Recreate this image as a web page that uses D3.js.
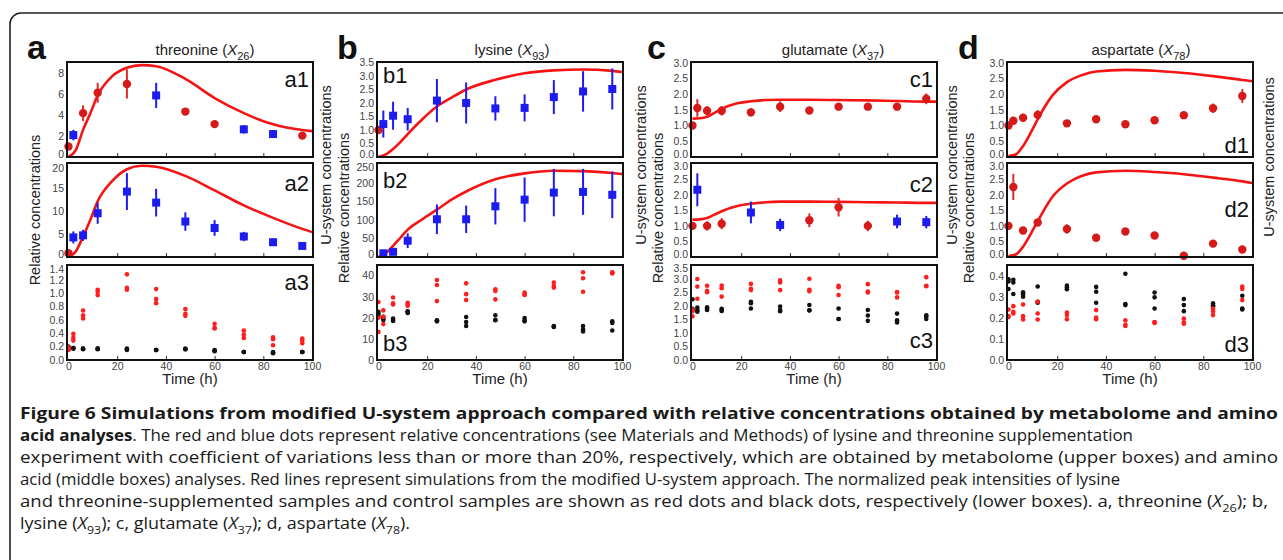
<!DOCTYPE html>
<html lang="en">
<head>
<meta charset="UTF-8">
<title>Figure 6 - U-system simulations vs relative concentrations</title>
<script src="https://d3js.org/d3.v7.min.js"></script>
<style>
  body { margin: 0; background: #fff; }
  svg text { font-family: "Liberation Sans", Arial, sans-serif; }
  .cap text { font-family: "Open Sans", "Noto Sans", sans-serif; }
</style>
</head>
<body>
<svg id="fig" width="1283" height="560"></svg>
<script>
// sampling times (h) and the times where the simulated curves were read off
const times = [0, 2, 6, 12, 24, 36, 48, 60, 72, 84, 96];
const simTimes = [0, 3, 6, 9, 12, 18, 24, 30, 36, 48, 60, 72, 84, 96, 100];

// a: threonine
const a1Kind = ["r", "b", "r", "r", "r", "b", "r", "r", "b", "b", "r"];
const a1Val = [1.0, 2.1, 4.2, 6.15, 7.0, 5.9, 4.35, 3.15, 2.65, 2.2, 2.05];
const a1Err = [0, 0.5, 0.75, 0.95, 1.4, 1.2, 0.25, 0.15, 0.4, 0.35, 0.3];
const a1Sim = [0, 0.65, 2.6, 4.2, 5.9, 7.75, 8.55, 8.8, 8.7, 7.48, 5.65, 4.2, 3.13, 2.58, 2.48];
const a2Kind = ["r", "b", "b", "b", "b", "b", "b", "b", "b", "b", "b"];
const a2Val = [0.8, 4.25, 4.7, 9.5, 14.2, 11.8, 7.7, 6.3, 4.45, 3.2, 2.4];
const a2Err = [0, 1.3, 1.2, 2.3, 4.0, 3.0, 2.0, 1.7, 1.0, 0.8, 0.3];
const a2Sim = [0, 1.2, 4.45, 8.1, 12.1, 16.5, 19.05, 19.8, 19.6, 17.6, 14.45, 11.2, 8.5, 6.1, 5.4];
const a3Red = [[0.15, 0.17, 0.19], [0.39, 0.33, 0.29], [0.74, 0.67, 0.62], [1.05, 1.02, 0.97], [1.28, 1.08, 1.05], [1.06, 0.91, 0.85], [0.76, 0.69, 0.66], [0.54, 0.48, 0.47], [0.44, 0.38, 0.33], [0.34, 0.31, 0.22], [0.32, 0.29, 0.25]];
const a3Black = [[0.17, 0.18, 0.2], [0.18, 0.18, 0.17], [0.17, 0.16, 0.17], [0.17, 0.16, 0.17], [0.17, 0.15, 0.16], [0.15, 0.15, 0.15], [0.17, 0.16, 0.16], [0.14, 0.13, 0.15], [0.12, 0.12, 0.12], [0.12, 0.1, 0.11], [0.12, 0.12, 0.12]];

// b: lysine
const b1Kind = ["r", "b", "b", "b", "b", "b", "b", "b", "b", "b", "b"];
const b1Val = [1.0, 1.22, 1.53, 1.4, 2.09, 2.0, 1.8, 1.82, 2.22, 2.43, 2.52];
const b1Err = [0, 0.5, 0.52, 0.42, 0.8, 0.76, 0.45, 0.5, 0.63, 0.75, 0.76];
const b1Sim = [0, 0.1, 0.3, 0.55, 0.85, 1.4, 1.87, 2.2, 2.5, 2.86, 3.1, 3.21, 3.24, 3.19, 3.15];
const b2Kind = ["b", "b", "b", "b", "b", "b", "b", "b", "b", "b", "b"];
const b2Val = [null, 10, 14, 44, 102, 102, 137, 155, 174, 176, 168];
const b2Err = [0, 3, 3, 20, 40, 37, 49, 60, 64, 62, 63];
const b2Sim = [0, 10, 30, 52, 74, 102, 128, 155, 177, 210, 226, 233, 232, 227, 224];
const b3Red = [[27.5, 20.0, 13.3], [23.5, 20.5, 17.0], [29.6, 26.8, 26.3], [27.1, 26.3, 25.7], [37.9, 35.5, 27.9], [36.3, 31.2, 28.4], [33.5, 32.7, 28.7], [31.9, 30.8, 31.2], [36.7, 35.0, 34.3], [41.6, 38.7, 32.3], [41.6, 41.0, 41.3]];
const b3Black = [[22.8, 21.8, 20.5], [20.5, 19.5, 19.0], [19.6, 18.5, 19.0], [23.1, 22.3, 22.8], [18.8, 18.3, 18.6], [20.4, 18.0, 16.1], [21.2, 18.8, 19.0], [19.9, 18.8, 18.3], [16.1, 15.6, 15.9], [16.1, 14.5, 13.5], [18.3, 17.5, 14.0]];

// c: glutamate
const c1Kind = ["r", "r", "r", "r", "r", "r", "r", "r", "r", "r", "r"];
const c1Val = [1.0, 1.56, 1.47, 1.47, 1.42, 1.6, 1.48, 1.6, 1.6, 1.6, 1.85];
const c1Err = [0, 0.28, 0.15, 0.15, 0.13, 0.17, 0.05, 0.04, 0.06, 0.1, 0.17];
const c1Sim = [1.22, 1.23, 1.28, 1.4, 1.53, 1.7, 1.77, 1.81, 1.82, 1.82, 1.81, 1.8, 1.78, 1.76, 1.76];
const c2Kind = ["r", "b", "r", "r", "b", "b", "r", "r", "r", "b", "b"];
const c2Val = [1.0, 2.16, 1.0, 1.07, 1.43, 1.03, 1.18, 1.6, 1.0, 1.14, 1.12];
const c2Err = [0, 0.53, 0.15, 0.18, 0.35, 0.2, 0.22, 0.3, 0.17, 0.22, 0.2];
const c2Sim = [1.2, 1.21, 1.25, 1.36, 1.47, 1.63, 1.71, 1.76, 1.78, 1.78, 1.77, 1.76, 1.75, 1.74, 1.74];
const c3Red = [[1.87, 1.81, 1.62], [3.0, 2.72, 2.27], [2.75, 2.56, 2.51], [2.76, 2.66, 2.35], [2.82, 2.64, 2.59], [2.95, 2.87, 2.59], [3.01, 2.6, 2.55], [2.75, 2.7, 2.41], [2.81, 2.54, 2.5], [2.52, 2.32, 2.5], [3.07, 2.75, 2.73]];
const c3Black = [[2.25, 1.85, 1.9], [1.94, 1.84, 1.79], [1.95, 1.89, 1.85], [1.9, 1.82, 1.85], [2.16, 2.1, 1.91], [1.98, 1.85, 1.81], [2.04, 1.84, 1.84], [1.91, 1.52, 1.52], [1.85, 1.65, 1.45], [1.72, 1.47, 1.39], [1.66, 1.6, 1.52]];

// d: aspartate
const d1Kind = ["r", "r", "r", "r", "r", "r", "r", "r", "r", "r", "r"];
const d1Val = [1.0, 1.15, 1.25, 1.34, 1.07, 1.2, 1.04, 1.17, 1.33, 1.55, 1.94];
const d1Err = [0, 0.05, 0.12, 0.15, 0.08, 0.1, 0.04, 0.05, 0.05, 0.15, 0.22];
const d1Sim = [0.03, 0.08, 0.35, 0.75, 1.2, 1.95, 2.38, 2.6, 2.72, 2.77, 2.74, 2.67, 2.57, 2.45, 2.41];
const d2Kind = ["r", "r", "r", "r", "r", "r", "r", "r", "r", "r", "r"];
const d2Val = [1.0, 2.25, 0.85, 1.11, 0.9, 0.62, 0.82, 0.69, 0.04, 0.43, 0.24];
const d2Err = [0, 0.42, 0.1, 0.1, 0.15, 0.05, 0.08, 0.04, 0.03, 0.04, 0.03];
const d2Sim = [0.03, 0.08, 0.33, 0.72, 1.15, 1.93, 2.36, 2.6, 2.72, 2.77, 2.73, 2.66, 2.55, 2.43, 2.38];
const d3Red = [[0.242, 0.21, 0.206], [0.258, 0.231, 0.223], [0.266, 0.21, 0.194], [0.279, 0.223, 0.194], [0.227, 0.215, 0.195], [0.239, 0.203, 0.195], [0.19, 0.169, 0.163], [0.182, 0.177, 0.18], [0.198, 0.179, 0.174], [0.247, 0.234, 0.215], [0.352, 0.34, 0.287]];
const d3Black = [[0.387, 0.376, 0.34], [0.384, 0.371, 0.316], [0.324, 0.315, 0.303], [0.352, 0.279, 0.274], [0.356, 0.347, 0.339], [0.35, 0.327, 0.274], [0.413, 0.268, 0.263], [0.323, 0.3, 0.247], [0.292, 0.263, 0.234], [0.271, 0.258, 0.262], [0.308, 0.247, 0.242]];

const xTicks = [0, 20, 40, 60, 80, 100];

// layout
const colX = [67, 377, 691, 1007];
const pw = 246;
const rowTop = [62, 163, 265];
const rowH = [95, 94, 95];

const RED = "#d61a1a", BLUE = "#1c1cf0", LINE = "#f41414";

const svg = d3.select("#fig");

// figure frame (rounded box, runs off the page)
svg.append("rect")
  .attr("x", 10).attr("y", 13)
  .attr("width", 1300).attr("height", 600)
  .attr("rx", 11)
  .attr("fill", "none").attr("stroke", "#222").attr("stroke-width", 1.6);

// small helper: text made of plain / italic / subscript / bold parts
function rich(sel, parts, size) {
  let shift = 0;
  parts.forEach(([s, st]) => {
    const t = sel.append("tspan").text(s);
    const want = st === "s" ? Math.round(size * 0.3) : 0;
    if (want !== shift) { t.attr("dy", want - shift); shift = want; }
    if (st === "s") t.attr("font-size", Math.round(size * 0.7));
    if (st === "i") t.attr("font-style", "italic");
    if (st === "b") t.attr("font-weight", "bold");
  });
}

let clipId = 0;
function panel(col, row, yMax, yTicks, fmt) {
  const g = svg.append("g").attr("transform", `translate(${colX[col]},${rowTop[row]})`);
  const h = rowH[row];
  const x = d3.scaleLinear().domain([-0.6, 100.4]).range([0, pw]);
  const y = d3.scaleLinear().domain([0, yMax]).range([h, 0]);
  const id = "clip" + (clipId++);
  g.append("clipPath").attr("id", id).append("rect").attr("width", pw).attr("height", h);

  // y axis labels; the ones at the shared panel edges are nudged apart a little
  const ya = g.append("g").call(d3.axisLeft(y).tickValues(yTicks).tickFormat(d3.format(fmt)).tickSize(0).tickPadding(3));
  ya.select(".domain").remove();
  ya.selectAll("text").attr("font-size", 10.5).attr("fill", "#444")
    .style("font-family", "'Liberation Sans', Arial, sans-serif")
    .attr("y", d => {
      if (d === 0 && row < 2) return -3;
      if (y(d) < 3 && row > 0) return 3;
      return 0;
    });

  // inner ticks on the bottom edge
  const xa = g.append("g").attr("transform", `translate(0,${h})`)
    .call(d3.axisBottom(x).tickValues([20, 40, 60, 80]).tickSizeInner(-4).tickSizeOuter(0).tickFormat(""));
  xa.select(".domain").remove();
  xa.selectAll("line").attr("stroke", "#333");

  if (row === 2) {
    const xl = g.append("g").attr("transform", `translate(0,${h})`)
      .call(d3.axisBottom(x).tickValues(xTicks).tickSize(0).tickPadding(3));
    xl.select(".domain").remove();
    xl.selectAll("text").attr("font-size", 10.5).attr("fill", "#444").style("font-family", "'Liberation Sans', Arial, sans-serif");
    g.append("text").attr("x", pw / 2).attr("y", h + 24)
      .attr("text-anchor", "middle").attr("font-size", 15).attr("fill", "#222")
      .text("Time (h)");
  }
  return { g, x, y, h, clip: "url(#" + id + ")" };
}

function frame(p) {
  p.g.append("rect").attr("width", pw).attr("height", p.h)
    .attr("fill", "none").attr("stroke", "#111").attr("stroke-width", 2);
}

function tag(p, label, anchor, yPos) {
  p.g.append("text")
    .attr("x", anchor === "end" ? pw - 4 : 6)
    .attr("y", yPos)
    .attr("text-anchor", anchor)
    .attr("font-size", 22).attr("fill", "#111")
    .text(label);
}

function upper(col, row, yMax, yTicks, fmt, vals, errs, kinds, sim) {
  const p = panel(col, row, yMax, yTicks, fmt);
  const line = d3.line().x((d, i) => p.x(simTimes[i])).y(d => p.y(d)).curve(d3.curveMonotoneX);
  p.g.append("path").datum(sim).attr("d", line)
    .attr("fill", "none").attr("stroke", LINE).attr("stroke-width", 2.6)
    .attr("clip-path", p.clip);

  const pts = times.map((t, i) => ({ t, v: vals[i], e: errs[i], k: kinds[i] })).filter(d => d.v !== null);
  p.g.selectAll(".err").data(pts.filter(d => d.e > 0)).enter().append("line")
    .attr("x1", d => p.x(d.t)).attr("x2", d => p.x(d.t))
    .attr("y1", d => p.y(d.v - d.e)).attr("y2", d => p.y(d.v + d.e))
    .attr("stroke", d => d.k === "b" ? BLUE : "#e02a2a").attr("stroke-width", 2);
  p.g.selectAll(".circ").data(pts.filter(d => d.k === "r")).enter().append("circle")
    .attr("cx", d => p.x(d.t)).attr("cy", d => p.y(d.v)).attr("r", 4.2)
    .attr("fill", RED);
  p.g.selectAll(".sq").data(pts.filter(d => d.k === "b")).enter().append("rect")
    .attr("x", d => p.x(d.t) - 4).attr("y", d => p.y(d.v) - 4)
    .attr("width", 8).attr("height", 8).attr("fill", BLUE);
  frame(p);
  return p;
}

function lower(col, yMax, yTicks, fmt, red, black) {
  const p = panel(col, 2, yMax, yTicks, fmt);
  const flat = (arr, c) => arr.flatMap((reps, i) => reps.map(v => ({ t: times[i], v, c })));
  p.g.selectAll(".dot").data(flat(black, "#111").concat(flat(red, "#ff1e1e"))).enter().append("circle")
    .attr("cx", d => p.x(d.t)).attr("cy", d => p.y(d.v)).attr("r", 2.3)
    .attr("fill", d => d.c);
  frame(p);
  return p;
}

// column a
tag(upper(0, 0, 9.1, [0, 2, 4, 6, 8], "d", a1Val, a1Err, a1Kind, a1Sim), "a1", "end", 25);
tag(upper(0, 1, 20.4, [0, 5, 10, 15, 20], "d", a2Val, a2Err, a2Kind, a2Sim), "a2", "end", 28);
tag(lower(0, 1.42, d3.range(0, 1.41, 0.2), ".1f", a3Red, a3Black), "a3", "end", 25);
// column b
tag(upper(1, 0, 3.52, d3.range(0, 3.51, 0.5), ".1f", b1Val, b1Err, b1Kind, b1Sim), "b1", "start", 21);
tag(upper(1, 1, 254, [0, 50, 100, 150, 200, 250], "d", b2Val, b2Err, b2Kind, b2Sim), "b2", "start", 25);
tag(lower(1, 45, [0, 10, 20, 30, 40], "d", b3Red, b3Black), "b3", "start", 86);
// column c
tag(upper(2, 0, 3.02, d3.range(0, 3.01, 0.5), ".1f", c1Val, c1Err, c1Kind, c1Sim), "c1", "end", 25);
tag(upper(2, 1, 3.02, d3.range(0, 3.01, 0.5), ".1f", c2Val, c2Err, c2Kind, c2Sim), "c2", "end", 29);
tag(lower(2, 3.52, d3.range(0, 3.51, 0.5), ".1f", c3Red, c3Black), "c3", "end", 83);
// column d
tag(upper(3, 0, 3.02, d3.range(0, 3.01, 0.5), ".1f", d1Val, d1Err, d1Kind, d1Sim), "d1", "end", 91);
tag(upper(3, 1, 3.02, d3.range(0, 3.01, 0.5), ".1f", d2Val, d2Err, d2Kind, d2Sim), "d2", "end", 54);
tag(lower(3, 0.455, [0, 0.1, 0.2, 0.3, 0.4], ".1f", d3Red, d3Black), "d3", "end", 87);

// panel letters and titles
const letters = ["a", "b", "c", "d"];
const letterX = [27, 337, 647, 958];
const titles = [
  [["threonine (", "n"], ["X", "i"], ["26", "s"], [")", "n"]],
  [["lysine (", "n"], ["X", "i"], ["93", "s"], [")", "n"]],
  [["glutamate (", "n"], ["X", "i"], ["37", "s"], [")", "n"]],
  [["aspartate (", "n"], ["X", "i"], ["78", "s"], [")", "n"]]
];
const titleX = [205, 512, 833, 1141];
letters.forEach((l, i) => {
  svg.append("text").attr("x", letterX[i]).attr("y", 59)
    .attr("font-size", 34).attr("font-weight", "bold").attr("fill", "#111").text(l);
  const t = svg.append("text").attr("x", titleX[i]).attr("y", 55)
    .attr("text-anchor", "middle").attr("font-size", 15).attr("fill", "#222");
  rich(t, titles[i], 15);
});

// rotated axis titles
function vlabel(x, y, s) {
  svg.append("text").attr("transform", `translate(${x},${y}) rotate(-90)`)
    .attr("text-anchor", "middle").attr("font-size", 14.5).attr("fill", "#222").text(s);
}
vlabel(40, 210, "Relative concentrations");
[[331, 349], [646, 663], [957, 974]].forEach(([ux, rx]) => {
  vlabel(ux, 165, "U-system concentrations");
  vlabel(rx, 208, "Relative concentrations");
});
vlabel(1274, 157, "U-system concentrations");

// caption
const capLines = [
  [[["Figure 6 Simulations from modified U-system approach compared with relative concentrations obtained by metabolome and amino", "b"]], 1258],
  [[["acid analyses", "b"], [". The red and blue dots represent relative concentrations (see Materials and Methods) of lysine and threonine supplementation", "n"]], 1113],
  [[["experiment with coefficient of variations less than or more than 20%, respectively, which are obtained by metabolome (upper boxes) and amino", "n"]], 1258],
  [[["acid (middle boxes) analyses. Red lines represent simulations from the modified U-system approach. The normalized peak intensities of lysine", "n"]], 1100],
  [[["and threonine-supplemented samples and control samples are shown as red dots and black dots, respectively (lower boxes). a, threonine (", "n"], ["X", "i"], ["26", "s"], ["); b,", "n"]], 1248],
  [[["lysine (", "n"], ["X", "i"], ["93", "s"], ["); c, glutamate (", "n"], ["X", "i"], ["37", "s"], ["); d, aspartate (", "n"], ["X", "i"], ["78", "s"], [").", "n"]], 390]
];
const cap = svg.append("g").attr("class", "cap");
capLines.forEach(([parts, w], i) => {
  const t = cap.append("text").attr("x", 20).attr("y", 419 + i * 22)
    .attr("font-size", 16).attr("fill", "#1a1a1a")
    .attr("textLength", w).attr("lengthAdjust", "spacingAndGlyphs");
  rich(t, parts, 16);
});
</script>
</body>
</html>
